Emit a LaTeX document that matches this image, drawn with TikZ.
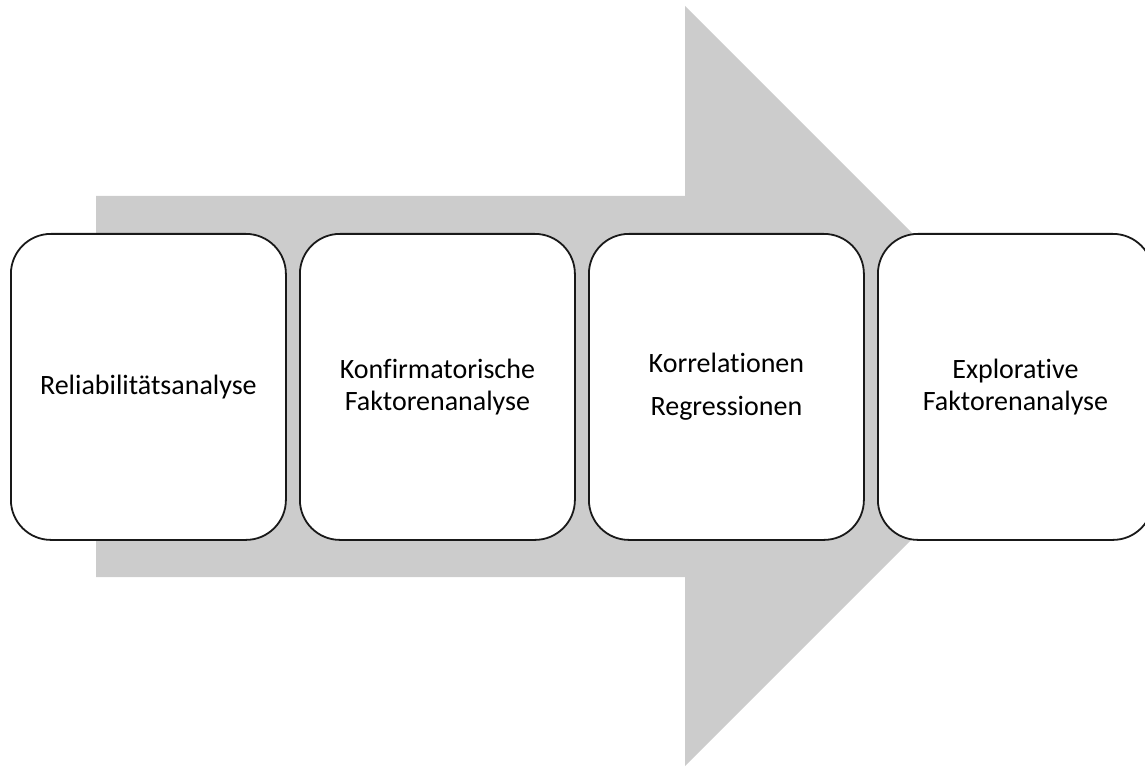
\documentclass[tikz,border=0pt]{standalone}
\usepackage{fontspec}
\setmainfont{Carlito}[RawFeature=-liga]
\begin{document}
\begin{tikzpicture}[x=1pt,y=-1pt,
  stage/.style={draw=black!90,line width=1.8pt,fill=white,rounded corners=40pt,
    minimum width=275pt,minimum height=306pt,inner sep=0pt,anchor=north west,
    align=center,font=\fontsize{28}{31.5}\selectfont},
  flow/.style={fill=black!20,draw=none}]
\useasboundingbox (0,0) rectangle (1145,767);
\fill[flow] (96,196) -- (685,196) -- (685,6) -- (1065,386) -- (685,766) -- (685,577) -- (96,577) -- cycle;
\node[stage] (s1) at (10,233) {Reliabilitätsanalyse};
\node[stage] (s2) at (299,233) {Konfirmatorische\\Faktorenanalyse};
\node[stage] (s3) at (588,233) {Korrelationen\\[12pt]Regressionen};
\node[stage] (s4) at (877,233) {Explorative\\Faktorenanalyse};
\end{tikzpicture}
\end{document}
